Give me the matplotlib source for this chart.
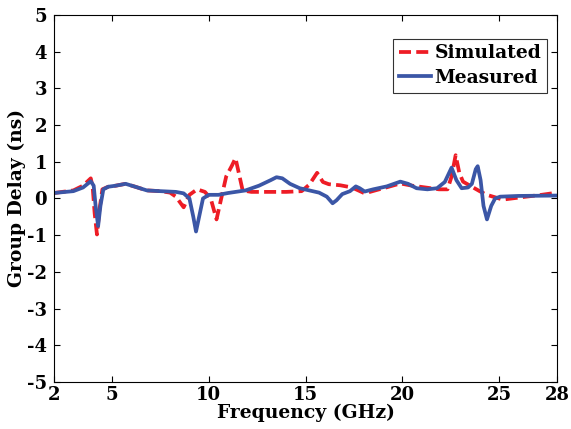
import matplotlib
matplotlib.use("Agg")
import matplotlib.pyplot as plt

# Simulated (red dashed)
sim_f = [2.0, 3.0, 3.5, 3.9, 4.0, 4.1, 4.22, 4.35, 4.5, 4.8, 5.2, 5.7, 6.2, 6.8, 7.5, 8.0, 8.3, 8.7,
         9.0, 9.4, 9.8, 10.1, 10.4, 10.6, 10.9, 11.2, 11.38, 11.55, 11.75, 12.2, 13.0, 14.0, 14.8,
         15.2, 15.6, 15.9, 16.2, 16.8, 17.4, 18.06, 18.6, 19.3, 19.9, 20.5, 21.2, 21.9, 22.34,
         22.55, 22.76, 22.95, 23.14, 23.6, 24.0, 24.37, 25.2, 26.4, 27.2, 28.0]
sim_d = [0.15, 0.22, 0.35, 0.55, 0.3, -0.4, -0.98, -0.3, 0.25, 0.32, 0.35, 0.4, 0.32, 0.22, 0.2, 0.16, 0.05, -0.24,
         0.1, 0.25, 0.18, 0.0, -0.57, -0.1, 0.6, 0.9, 1.1, 0.7, 0.22, 0.18, 0.18, 0.18, 0.2,
         0.38, 0.7, 0.45, 0.39, 0.36, 0.3, 0.14, 0.22, 0.32, 0.41, 0.35, 0.3, 0.25, 0.25,
         0.6, 1.18, 0.7, 0.46, 0.32, 0.2, 0.1, -0.03, 0.05, 0.1, 0.16]

# Measured (blue solid)
mea_f = [2.0, 3.0, 3.5, 3.9, 4.05, 4.15, 4.28, 4.4, 4.55, 4.8, 5.2, 5.7, 6.2, 6.8, 7.5, 8.3, 8.7,
         9.0, 9.2, 9.34, 9.5, 9.7, 10.0, 10.5, 11.0, 11.9, 12.6, 13.2, 13.5, 13.8, 14.2, 14.7,
         15.2, 15.7, 16.1, 16.4, 16.6, 16.9, 17.3, 17.6, 17.8, 18.06, 18.5, 19.2, 19.9, 20.3,
         20.74, 21.3, 21.8, 22.2, 22.55, 22.8, 23.07, 23.4, 23.6, 23.8, 23.9, 24.05, 24.2, 24.38,
         24.6, 24.8, 25.06, 26.0, 28.0]
mea_d = [0.15, 0.2, 0.3, 0.47, 0.35, -0.2, -0.75, -0.2, 0.25, 0.32, 0.35, 0.4, 0.32, 0.22, 0.2, 0.18, 0.14,
         0.0, -0.5, -0.9, -0.5, 0.0, 0.1, 0.1, 0.15, 0.22, 0.35, 0.5, 0.58, 0.55, 0.4, 0.28,
         0.22, 0.16, 0.05, -0.13, -0.05, 0.12, 0.2, 0.33, 0.28, 0.19, 0.25, 0.33, 0.46, 0.4,
         0.28, 0.25, 0.28, 0.45, 0.84, 0.5, 0.28, 0.3, 0.4, 0.8, 0.88, 0.5, -0.2, -0.57,
         -0.2, 0.0, 0.05, 0.07, 0.08]

xticks = [2, 5, 10, 15, 20, 25, 28]
yticks = [-5, -4, -3, -2, -1, 0, 1, 2, 3, 4, 5]

plt.rcParams['font.family'] = ['DejaVu Serif']
plt.rcParams['font.weight'] = 'bold'
plt.rcParams['axes.unicode_minus'] = False

fig = plt.figure(figsize=(5.71, 4.29), dpi=100)
ax = fig.add_axes([0.0946, 0.1096, 0.8809, 0.8554])

ax.plot(sim_f, sim_d, color='#ee1c25', lw=2.7, ls='--', dashes=(3.2, 1.4), label='Simulated')
ax.plot(mea_f, mea_d, color='#3b56a6', lw=2.7, ls='-', label='Measured')

ax.set_xlim(2, 28)
ax.set_ylim(-5, 5)
ax.set_xticks(xticks)
ax.set_yticks(yticks)
ax.tick_params(direction='in', top=True, right=True, labelsize=13, length=4, width=0.8)
ax.tick_params(axis='x', pad=3)
ax.tick_params(axis='y', pad=5)
for lab in ax.get_xticklabels() + ax.get_yticklabels():
    lab.set_fontweight('bold')
for s in ax.spines.values():
    s.set_linewidth(0.8)

ax.set_xlabel('Frequency (GHz)', fontsize=13.5, fontweight='bold', labelpad=0)
ax.set_ylabel('Group Delay (ns)', fontsize=13.5, fontweight='bold', labelpad=1)

leg = ax.legend(loc='upper right', bbox_to_anchor=(0.98, 0.935), fontsize=13.5, frameon=True,
                fancybox=False, edgecolor='black', handlelength=1.7, handletextpad=0.2,
                borderpad=0.3, labelspacing=0.35, borderaxespad=0.0)
leg.get_frame().set_linewidth(0.8)
for t in leg.get_texts():
    t.set_fontweight('bold')

fig.savefig('out.png', dpi=100)
